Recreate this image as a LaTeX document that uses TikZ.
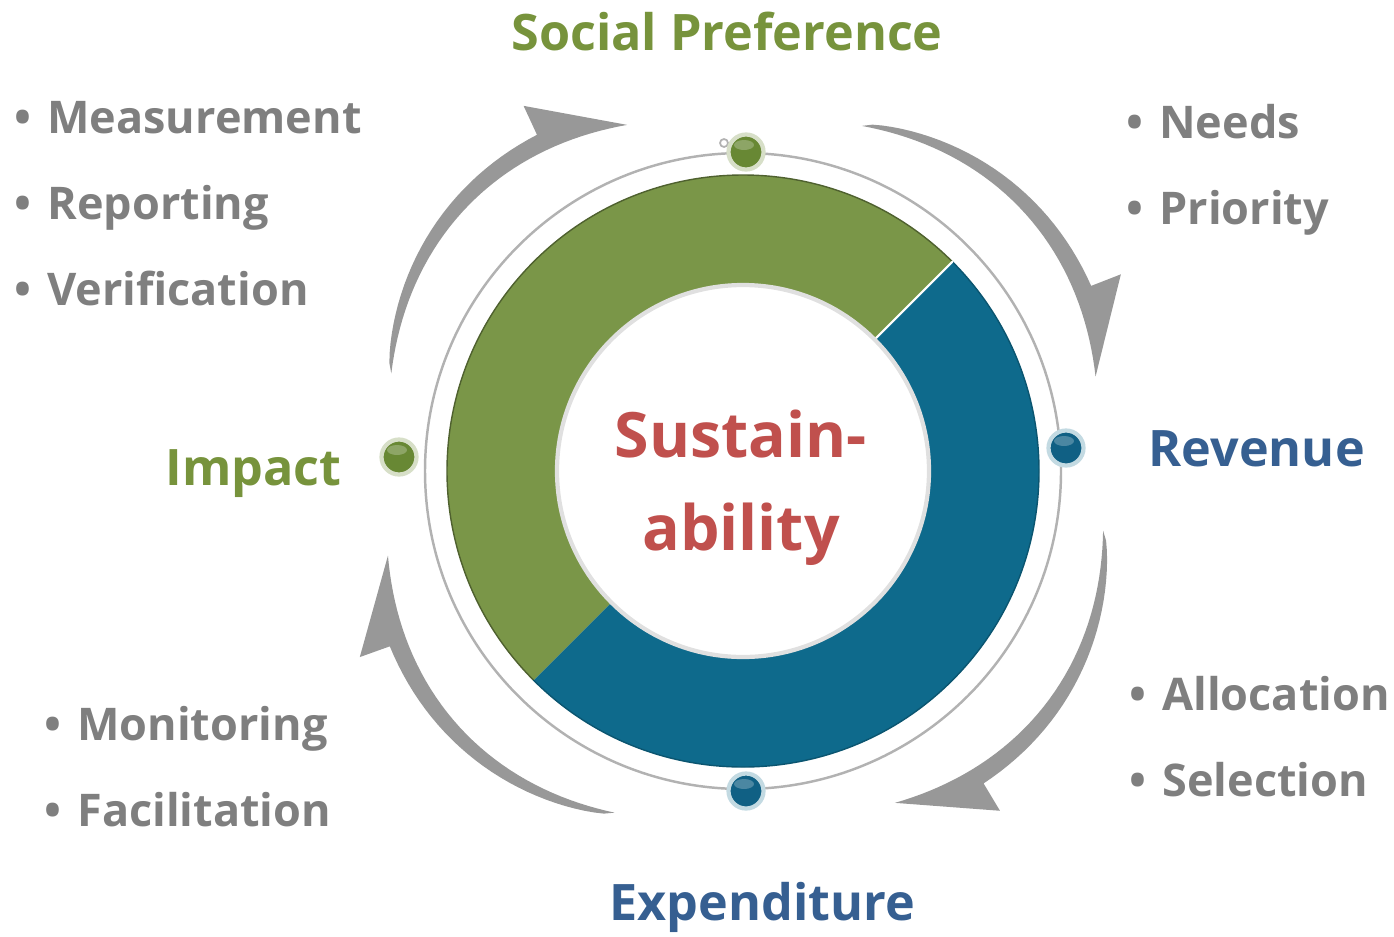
\documentclass[tikz,border=0pt]{standalone}
\usepackage{fontspec}
\setmainfont{Open Sans}
\usepackage{tikz}

\definecolor{leafgreen}{RGB}{119,147,60}
\definecolor{ringgreen}{RGB}{122,150,72}
\definecolor{dotgreen}{RGB}{104,136,52}
\definecolor{ringblue}{RGB}{14,106,140}
\definecolor{dotblue}{RGB}{16,96,132}
\definecolor{titleblue}{RGB}{54,95,145}
\definecolor{sustred}{RGB}{192,80,77}
\definecolor{itemgray}{RGB}{127,127,127}
\definecolor{arrowgray}{RGB}{152,152,152}
\definecolor{orbitgray}{RGB}{178,178,178}

\begin{document}
\begin{tikzpicture}[x=0.01cm, y=-0.01cm, line cap=round, line join=round,
  heading/.style={font=\fontsize{14.3}{18}\selectfont\bfseries, inner sep=0pt},
  centretext/.style={font=\fontsize{17.8}{22}\selectfont\bfseries, text=sustred, inner sep=0pt, anchor=base},
  item/.style={font=\fontsize{12.8}{16}\selectfont\bfseries, text=itemgray, inner sep=0pt, anchor=base west},
  dot/.style={circle, minimum size=0.35cm, inner sep=0pt, line width=1.2pt}]

  \useasboundingbox (0,0) rectangle (1394,936);

  % centre of the ring
  \coordinate (C) at (743,471);

  \begin{scope}[shift={(C)}, yscale=-1]
    % curved arrows round the orbit (tail angle, running clockwise)
    \foreach \a in {164.5, 71, -9.4, -110.6}
      \fill[arrowgray]
        plot[variable=\t, domain=0:56, samples=40] ({\a-\t}:{365+17*sin(\t*180/56)})
        -- ({\a-43.5}:426)
        -- plot[variable=\t, domain=43:0, samples=30] ({\a-\t}:{365+17*sin(\t*180/56)+18*sqrt(\t/43)})
        -- cycle;

    % thin orbit
    \draw[orbitgray, line width=0.7pt] (0,0) circle[radius=318];

    % the two halves of the ring
    \fill[ringgreen] (45:296) arc[start angle=45, end angle=225, radius=296]
      -- (225:187) arc[start angle=225, end angle=45, radius=187] -- cycle;
    \fill[ringblue] (225:296) arc[start angle=225, end angle=405, radius=296]
      -- (45:187) arc[start angle=405, end angle=225, radius=187] -- cycle;
    \draw[ringgreen!65!black, line width=0.4pt] (45:296) arc[start angle=45, end angle=225, radius=296];
    \draw[ringblue!80!black, line width=0.4pt] (225:296) arc[start angle=225, end angle=405, radius=296];
    \draw[white, line width=0.6pt] (45:187) -- (45:296);
    \draw[black!12, line width=1.2pt] (0,0) circle[radius=186];
  \end{scope}

  % dots on the orbit
  \draw[black!30, line width=0.5pt] (724,143) circle[radius=4];
  \node[dot, fill=dotgreen, draw=ringgreen!30] (socialdot) at (746,152) {};
  \node[dot, fill=dotblue, draw=ringblue!25] (revenuedot) at (1066,448) {};
  \node[dot, fill=dotblue, draw=ringblue!25] (expendot) at (746,791) {};
  \node[dot, fill=dotgreen, draw=ringgreen!30] (impactdot) at (399,457) {};
  \foreach \d in {socialdot, revenuedot, expendot, impactdot}
    \fill[white, opacity=0.25] (\d.center) ++(-2,-7) ellipse[x radius=10, y radius=5];

  % centre text
  \node[centretext] (sustain) at (741,457) {Sustain-};
  \node[centretext] (ability) at (741,550) {ability};

  % headings
  \node[heading, text=leafgreen, anchor=base] (social) at (727,50) {Social Preference};
  \node[heading, text=titleblue, anchor=base west] (revenue) at (1148,466) {Revenue};
  \node[heading, text=leafgreen, anchor=base west] (impact) at (165,485) {Impact};
  \node[heading, text=titleblue, anchor=base west] (expenditure) at (609,920) {Expenditure};

  % bullet lists
  \node[item] (measure) at (14,133) {•\hspace{0.35em}Measurement};
  \node[item] (report) at (14,219) {•\hspace{0.35em}Reporting};
  \node[item] (verify) at (14,305) {•\hspace{0.35em}Verification};
  \node[item] (needs) at (1126,138) {•\hspace{0.35em}Needs};
  \node[item] (priority) at (1126,224) {•\hspace{0.35em}Priority};
  \node[item] (alloc) at (1129,710) {•\hspace{0.35em}Allocation};
  \node[item] (select) at (1129,796) {•\hspace{0.35em}Selection};
  \node[item] (monitor) at (44,740) {•\hspace{0.35em}Monitoring};
  \node[item] (facil) at (44,826) {•\hspace{0.35em}Facilitation};
\end{tikzpicture}
\end{document}
